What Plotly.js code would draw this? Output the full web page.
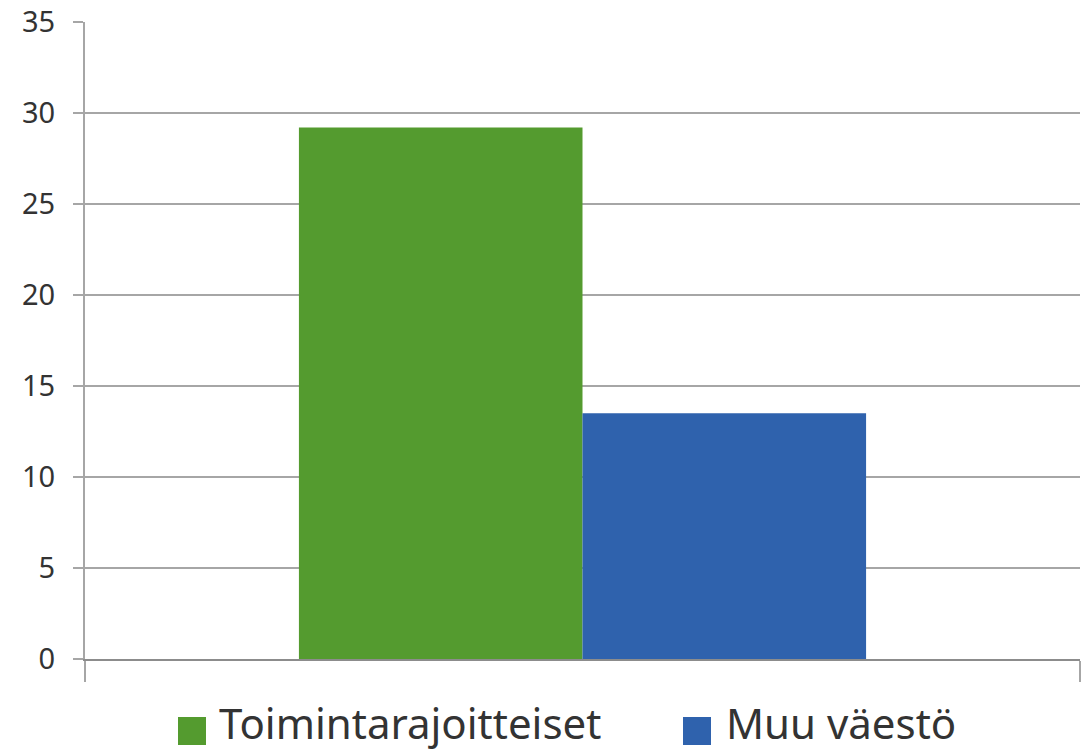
<!DOCTYPE html>
<html>
<head>
<meta charset="utf-8">
<script src="https://cdn.plot.ly/plotly-3.0.1.min.js"></script>
<style>html,body{margin:0;padding:0;background:#fff;}#chart{width:1086px;height:753px;}</style>
</head>
<body>
<div id="chart"></div>
<script>
const categories = ['Väestö'];
const seriesNames = ['Toimintarajoitteiset', 'Muu väestö'];
const toimintarajoitteiset = [29.2];
const muuVaesto = [13.5];
const yTicks = [0, 5, 10, 15, 20, 25, 30, 35];
const colors = ['#549b2f', '#2f62ad'];

const font = 'Noto Sans, DejaVu Sans, sans-serif';
const W = 1086, H = 753, M = {l: 85, r: 6, t: 22, b: 94};
const pw = W - M.l - M.r, ph = H - M.t - M.b;
const px2x = function(px){ return (px - M.l) / pw; };
const py2y = function(py){ return (H - M.b - py) / ph; };

const traces = [
  {type: 'bar', name: seriesNames[0], x: categories, y: toimintarajoitteiset,
   marker: {color: colors[0], line: {width: 0}}, hoverinfo: 'y'},
  {type: 'bar', name: seriesNames[1], x: categories, y: muuVaesto,
   marker: {color: colors[1], line: {width: 0}}, hoverinfo: 'y'}
];

// manual legend (positions in pixels)
const legendItems = [{sq: 178, tx: 218}, {sq: 683, tx: 725}];
const shapes = [], annotations = [];
legendItems.forEach(function(it, i){
  shapes.push({type: 'rect', xref: 'paper', yref: 'paper',
    x0: px2x(it.sq), x1: px2x(it.sq + 28), y0: py2y(745), y1: py2y(717),
    fillcolor: colors[i], line: {width: 0}});
  annotations.push({xref: 'paper', yref: 'paper', x: px2x(it.tx), y: py2y(752),
    xanchor: 'left', yanchor: 'bottom', showarrow: false, text: seriesNames[i],
    borderpad: 0, font: {size: 42, color: '#333333', family: font}});
});

const layout = {
  width: W, height: H,
  margin: {l: M.l, r: M.r, t: M.t, b: M.b, pad: 0},
  paper_bgcolor: '#ffffff', plot_bgcolor: '#ffffff',
  font: {family: font, color: '#333333', size: 29},
  barmode: 'group', bargap: 0.43, bargroupgap: 0,
  showlegend: false,
  shapes: shapes, annotations: annotations,
  xaxis: {type: 'category', range: [-0.5, 0.5], showticklabels: false, tickson: 'boundaries',
          ticks: 'outside', ticklen: 21, tickcolor: '#a6a6a6', tickwidth: 2,
          showline: true, linecolor: '#8c8c8c', linewidth: 2, showgrid: false, zeroline: false, fixedrange: true},
  yaxis: {range: [0, 35], tickvals: yTicks, ticktext: yTicks.map(String),
          ticks: 'outside', ticklen: 10, tickcolor: '#a6a6a6', tickwidth: 2,
          showline: true, linecolor: '#a6a6a6', linewidth: 2,
          showgrid: true, gridcolor: '#a6a6a6', gridwidth: 2, zeroline: false,
          ticklabelstandoff: 12, tickfont: {size: 29, color: '#333333'}, fixedrange: true}
};
Plotly.newPlot('chart', traces, layout, {displayModeBar: false, staticPlot: true});
</script>
</body>
</html>
